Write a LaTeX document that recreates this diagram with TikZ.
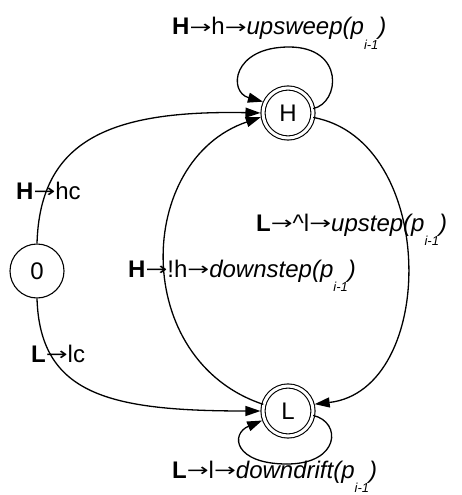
\documentclass[tikz,border=0pt]{standalone}
\usepackage{fontspec}
\usepackage{graphicx}
\setmainfont{Liberation Sans}
\newfontfamily\arrfont{DejaVu Sans}
\usetikzlibrary{arrows.meta}
\newcommand\mysub[1]{\raisebox{-14pt}{\fontsize{13}{13}\selectfont #1}}
\newcommand\arr{\raisebox{1.5pt}{\scalebox{1.45}[1]{\arrfont\fontsize{18}{18}\selectfont →}}}
\begin{document}
\begin{tikzpicture}[x=1pt,y=-1pt,
  every node/.style={font=\fontsize{24}{27}\selectfont},
  st/.style={circle, draw, line width=1.1pt, minimum size=54pt, inner sep=0pt},
  acc/.style={circle, draw, line width=1.1pt, double, double distance=3pt, minimum size=50pt, inner sep=0pt},
  edge/.style={line width=1.3pt, -{Triangle[length=15pt,width=10pt]}},
  lbl/.style={anchor=base west, inner sep=0pt}]
\useasboundingbox (0,0) rectangle (461,495);
\node[st] (O) at (37,271) {0};
\node[acc] (H) at (288,113) {H};
\node[acc] (L) at (288,411) {L};
\coordinate (Htop) at (289,47);
\coordinate (Lbot) at (287,464);
% edges
\draw[edge, shorten >=2pt] (O.north) .. controls (40,140) and (110,110) .. (H.180);
\draw[edge, shorten >=2pt] (O.south) .. controls (40,395) and (110,411) .. (L.180);
\draw[edge, shorten >=2pt] (L.165) .. controls (130,360) and (135,160) .. (H.188);
\draw[edge, shorten >=2pt] (H.-10) .. controls (438,140) and (438,390) .. (L.15);
\draw[line width=1.3pt] (H.10) .. controls (340,103) and (345,47) .. (Htop);
\draw[edge, shorten >=2pt] (Htop) .. controls (232,47) and (228,92) .. (H.155);
\draw[line width=1.3pt] (L.-10) .. controls (342,422) and (340,464) .. (Lbot);
\draw[edge, shorten >=2pt] (Lbot) .. controls (234,464) and (230,434) .. (L.-160);
% labels
\node[lbl] (t1) at (172,35) {\textbf{H}\arr h\arr\textit{upsweep(p\mysub{i-1})}};
\node[lbl] (t2) at (16,199) {\textbf{H}\arr hc};
\node[lbl] (t3) at (31,362) {\textbf{L}\arr lc};
\node[lbl] (t4) at (128,277) {\textbf{H}\arr!h\arr\textit{downstep(p\mysub{i-1})}};
\node[lbl] (t5) at (256,231) {\textbf{L}\arr\^{}l\arr\textit{upstep(p\mysub{i-1})}};
\node[lbl] (t6) at (172,478) {\textbf{L}\arr l\arr\textit{downdrift(p\mysub{i-1})}};
\end{tikzpicture}
\end{document}
